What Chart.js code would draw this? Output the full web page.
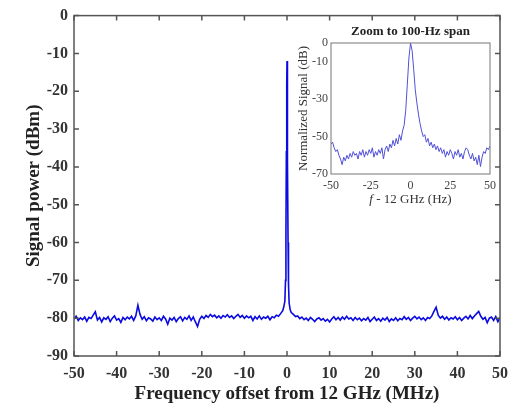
<!DOCTYPE html>
<html>
<head>
<meta charset="utf-8">
<script src="https://cdn.jsdelivr.net/npm/chart.js@4.4.1/dist/chart.umd.min.js"></script>
<style>
  body { margin: 0; background: #fff; }
  #wrap { position: relative; width: 516px; height: 409px; }
  #mainChart { position: absolute; left: 0; top: 0; }
  #insetChart { position: absolute; left: 280px; top: 10px; }
</style>
</head>
<body>
<div id="wrap">
  <canvas id="mainChart" width="516" height="409"></canvas>
  <canvas id="insetChart" width="225" height="205"></canvas>
</div>
<script>
// main spectrum: frequency offset (MHz) vs power (dBm)
const freqMHz = [
  -50, -49.5, -49, -48.5, -48, -47.5, -47, -46.5, -46, -45.5, -45, -44.5, -44, -43.5, -43, -42.5, -42, -41.5, -41, -40.5,
  -40, -39.5, -39, -38.5, -38, -37.5, -37, -36.5, -36, -35.5, -35, -34.5, -34, -33.5, -33, -32.5, -32, -31.5, -31, -30.5,
  -30, -29.5, -29, -28.5, -28, -27.5, -27, -26.5, -26, -25.5, -25, -24.5, -24, -23.5, -23, -22.5, -22, -21.5, -21, -20.5,
  -20, -19.5, -19, -18.5, -18, -17.5, -17, -16.5, -16, -15.5, -15, -14.5, -14, -13.5, -13, -12.5, -12, -11.5, -11, -10.5,
  -10, -9.5, -9, -8.5, -8, -7.5, -7, -6.5, -6, -5.5, -5, -4.5, -4, -3.5, -3, -2.5, -2, -1.5, -1,
  -0.75, -0.5, -0.35, -0.25, -0.15, -0.06, 0, 0.06, 0.15, 0.25, 0.35, 0.5, 0.75, 1, 1.5, 2, 2.5,
  3, 3.5, 4, 4.5, 5, 5.5, 6, 6.5, 7, 7.5, 8, 8.5, 9, 9.5, 10, 10.5, 11, 11.5, 12, 12.5,
  13, 13.5, 14, 14.5, 15, 15.5, 16, 16.5, 17, 17.5, 18, 18.5, 19, 19.5, 20, 20.5, 21, 21.5, 22, 22.5,
  23, 23.5, 24, 24.5, 25, 25.5, 26, 26.5, 27, 27.5, 28, 28.5, 29, 29.5, 30, 30.5, 31, 31.5, 32, 32.5,
  33, 33.5, 34, 34.5, 35, 35.5, 36, 36.5, 37, 37.5, 38, 38.5, 39, 39.5, 40, 40.5, 41, 41.5, 42, 42.5,
  43, 43.5, 44, 44.5, 45, 45.5, 46, 46.5, 47, 47.5, 48, 48.5, 49, 49.5, 50
];
const powerDbm = [
  -80.2, -79.5, -80.6, -79.9, -80.4, -79.7, -80.8, -79.8, -80.1, -79.2, -78.3, -80.5, -79.8, -81.0, -79.9, -80.3, -79.6, -80.9, -80.0, -79.4,
  -80.5, -80.1, -81.1, -79.8, -80.4, -79.7, -80.2, -79.5, -80.6, -79.4, -76.6, -79.0, -80.3, -79.6, -80.7, -79.9, -80.2, -80.8, -79.7, -80.4,
  -79.9, -80.6, -79.5, -80.2, -81.6, -80.0, -80.5, -79.8, -80.9, -80.1, -79.6, -80.7, -79.8, -80.3, -79.4, -80.6, -79.7, -81.0, -82.2, -80.3,
  -79.5, -80.1, -79.3, -79.8, -79.0, -79.6, -79.2, -79.9, -79.4, -80.0, -79.3, -79.7, -79.1, -79.8, -79.4, -80.1, -79.5, -79.0, -79.8, -79.3,
  -80.0, -79.4, -79.9, -79.5, -80.6, -79.6, -80.2, -79.4, -80.3, -79.7, -80.0, -79.5, -80.4, -79.6, -79.9, -79.2, -79.5, -78.8, -78.0,
  -77.0, -75.5, -70.0, -58.0, -36.0, -18.0, -12.0, -19.0, -38.0, -60.0, -71.0, -76.0, -77.8, -78.5, -79.0, -79.6, -79.4,
  -80.1, -79.7, -80.4, -80.0, -80.6, -79.8, -80.3, -80.9, -80.2, -79.9, -80.5, -80.1, -80.8, -80.3, -81.0, -80.2, -79.6, -80.4, -79.8, -80.5,
  -79.7, -80.3, -79.5, -80.2, -79.9, -80.6, -79.8, -80.4, -80.0, -80.7, -80.1, -80.5, -79.8, -80.9, -80.3, -79.7, -80.6, -80.1, -80.8, -80.0,
  -80.5, -79.8, -80.9, -80.2, -80.6, -79.9, -80.7, -80.1, -80.4, -79.6, -80.3, -79.8, -80.6, -80.0, -79.5, -80.2, -79.7, -80.4, -79.9, -80.6,
  -79.8, -80.1, -79.4, -78.2, -77.1, -79.2, -80.0, -79.5, -80.3, -79.7, -80.5, -79.9, -80.2, -79.6, -80.4, -79.8, -80.6, -80.0, -79.5, -80.2,
  -79.3, -80.1, -79.4, -78.8, -78.2, -79.5, -80.3, -79.8, -81.2, -80.0, -79.7, -80.6, -79.6, -80.9, -79.9
];
const mainXTicks = [-50, -40, -30, -20, -10, 0, 10, 20, 30, 40, 50];
const mainYTicks = [0, -10, -20, -30, -40, -50, -60, -70, -80, -90];

// inset: 100-Hz span, normalized signal (dB)
const insetHz = [
  -50, -49, -48, -47, -46, -45, -44, -43, -42, -41, -40, -39, -38, -37, -36, -35, -34, -33, -32, -31,
  -30, -29, -28, -27, -26, -25, -24, -23, -22, -21, -20, -19, -18, -17, -16, -15, -14, -13, -12, -11,
  -10, -9, -8, -7, -6, -5, -4, -3, -2, -1, 0, 1, 2, 3, 4, 5, 6, 7, 8, 9,
  10, 11, 12, 13, 14, 15, 16, 17, 18, 19, 20, 21, 22, 23, 24, 25, 26, 27, 28, 29,
  30, 31, 32, 33, 34, 35, 36, 37, 38, 39, 40, 41, 42, 43, 44, 45, 46, 47, 48, 49, 50
];
const insetDb = [
  -54, -53, -56, -58, -57, -60, -62, -65, -61, -63, -60, -62, -59, -61, -58, -60, -59, -62, -58, -60,
  -57, -61, -58, -60, -57, -59, -56, -61, -58, -60, -57, -59, -56, -62, -57, -55, -58, -54, -56, -52,
  -55, -51, -54, -49, -52, -47, -44, -36, -22, -8, 0, -4, -14, -25, -32, -38, -43, -47, -50, -49,
  -53, -51, -55, -53, -56, -54, -57, -55, -58, -56, -59, -57, -61, -58, -60, -57, -59, -62, -58, -60,
  -57, -61, -59, -62, -58, -56, -57, -60, -62, -59, -63, -61, -65, -60, -66, -61, -58, -59, -56, -57, -55
];
const insetXTicks = [-50, -25, 0, 25, 50];
const insetYTicks = [0, -10, -30, -50, -70];

const serif = "'Liberation Serif', 'Times New Roman', serif";

// box around the plot area with inward ticks on all four sides
const boxPlugin = (tickLen, color, width, mirror) => ({
  id: 'box',
  afterDraw(chart) {
    const { ctx, chartArea: a, scales } = chart;
    ctx.save();
    ctx.strokeStyle = color;
    ctx.lineWidth = width;
    ctx.strokeRect(a.left, a.top, a.right - a.left, a.bottom - a.top);
    if (tickLen > 0) {
      ctx.beginPath();
      scales.x.ticks.forEach(t => {
        const px = scales.x.getPixelForValue(t.value);
        ctx.moveTo(px, a.bottom); ctx.lineTo(px, a.bottom - tickLen);
        if (mirror) { ctx.moveTo(px, a.top); ctx.lineTo(px, a.top + tickLen); }
      });
      scales.y.ticks.forEach(t => {
        const py = scales.y.getPixelForValue(t.value);
        ctx.moveTo(a.left, py); ctx.lineTo(a.left + tickLen, py);
        if (mirror) { ctx.moveTo(a.right, py); ctx.lineTo(a.right - tickLen, py); }
      });
      ctx.stroke();
    }
    ctx.restore();
  }
});

new Chart(document.getElementById('mainChart').getContext('2d'), {
  type: 'line',
  data: {
    datasets: [{
      data: freqMHz.map((f, i) => ({ x: f, y: powerDbm[i] })),
      borderColor: 'rgb(10, 10, 225)',
      borderWidth: 1.6,
      pointRadius: 0,
      tension: 0,
      fill: false
    }]
  },
  options: {
    responsive: false,
    animation: false,
    layout: { padding: { left: 0, top: 13, right: 9, bottom: 0 } },
    plugins: { legend: { display: false }, tooltip: { enabled: false } },
    scales: {
      x: {
        type: 'linear', min: -50, max: 50,
        afterBuildTicks: s => { s.ticks = mainXTicks.map(v => ({ value: v })); },
        afterFit: s => { s.height = 53; },
        grid: { display: false, drawTicks: false },
        border: { display: false },
        ticks: { padding: 8, color: '#333', font: { family: serif, size: 16, weight: 'bold' } },
        title: {
          display: true, text: 'Frequency offset from 12 GHz (MHz)', color: '#222',
          font: { family: serif, size: 19, weight: 'bold' }, padding: { top: 4 }
        }
      },
      y: {
        min: -90, max: 0,
        afterBuildTicks: s => { s.ticks = mainYTicks.map(v => ({ value: v })); },
        afterFit: s => { s.width = 74; },
        grid: { display: false, drawTicks: false },
        border: { display: false },
        ticks: { padding: 6, color: '#333', font: { family: serif, size: 16, weight: 'bold' } },
        title: {
          display: true, text: 'Signal power (dBm)', color: '#222',
          font: { family: serif, size: 19, weight: 'bold' }, padding: { top: 23 }
        }
      }
    }
  },
  plugins: [boxPlugin(5, '#555', 1.5, true)]
});

// inset title and x label with italic f
const insetText = {
  id: 'insetText',
  afterDraw(chart) {
    const { ctx, chartArea: a } = chart;
    const cx = (a.left + a.right) / 2;
    ctx.save();
    ctx.fillStyle = '#222';
    ctx.textBaseline = 'middle';
    ctx.textAlign = 'center';
    ctx.font = 'bold 13px ' + serif;
    ctx.fillText('Zoom to 100-Hz span', cx, a.top - 11);
    ctx.font = 'italic 13px ' + serif;
    const fW = ctx.measureText('f').width;
    ctx.font = '13px ' + serif;
    const rest = ' - 12 GHz (Hz)';
    const rW = ctx.measureText(rest).width;
    const x0 = cx - (fW + rW) / 2;
    ctx.textAlign = 'left';
    ctx.fillStyle = '#333';
    ctx.font = 'italic 13px ' + serif;
    ctx.fillText('f', x0, a.bottom + 26);
    ctx.font = '13px ' + serif;
    ctx.fillText(rest, x0 + fW, a.bottom + 26);
    ctx.restore();
  }
};

new Chart(document.getElementById('insetChart').getContext('2d'), {
  type: 'line',
  data: {
    datasets: [{
      data: insetHz.map((f, i) => ({ x: f, y: insetDb[i] })),
      borderColor: 'rgb(80, 80, 215)',
      borderWidth: 1,
      pointRadius: 0,
      tension: 0,
      fill: false
    }]
  },
  options: {
    responsive: false,
    animation: false,
    layout: { padding: { left: 0, top: 33, right: 15, bottom: 0 } },
    plugins: { legend: { display: false }, tooltip: { enabled: false } },
    scales: {
      x: {
        type: 'linear', min: -50, max: 50,
        afterBuildTicks: s => { s.ticks = insetXTicks.map(v => ({ value: v })); },
        afterFit: s => { s.height = 41; },
        grid: { display: false, drawTicks: false },
        border: { display: false },
        ticks: { padding: 5, color: '#444', font: { family: serif, size: 12 } }
      },
      y: {
        min: -70, max: 0,
        afterBuildTicks: s => { s.ticks = insetYTicks.map(v => ({ value: v })); },
        afterFit: s => { s.width = 51; },
        grid: { display: false, drawTicks: false },
        border: { display: false },
        ticks: { padding: 3, color: '#444', font: { family: serif, size: 12 } },
        title: {
          display: true, text: 'Normalized Signal (dB)', color: '#333',
          font: { family: serif, size: 13 }, padding: { top: 16 }
        }
      }
    }
  },
  plugins: [boxPlugin(0, '#777', 1, false), insetText]
});
</script>
</body>
</html>
